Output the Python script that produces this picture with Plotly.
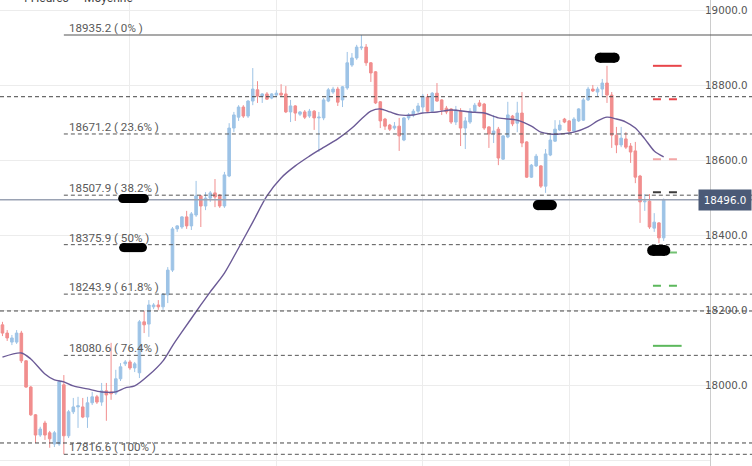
import plotly.graph_objects as go

# ---------------- data ----------------
candle_idx = list(range(141))
opens = [18162, 18140, 18116, 18116, 18140, 18066, 17996, 17922, 17868, 17900,
         17874, 17844, 17844, 18002, 17866, 17930, 17943, 17943, 17916, 17954,
         17970, 17956, 17986, 17983, 17980, 18018, 18058, 18063, 18047, 18034,
         18170, 18164, 18210, 18215, 18210, 18242, 18308, 18418, 18423, 18450,
         18426, 18455, 18506, 18479, 18500, 18514, 18508, 18479, 18559, 18687,
         18716, 18743, 18719, 18759, 18789, 18772, 18778, 18767, 18775, 18780,
         18778, 18730, 18746, 18724, 18730, 18719, 18732, 18714, 18714, 18759,
         18783, 18791, 18762, 18794, 18855, 18874, 18901, 18903, 18861, 18837,
         18757, 18711, 18695, 18687, 18692, 18655, 18714, 18722, 18732, 18743,
         18770, 18732, 18780, 18762, 18740, 18738, 18703, 18732, 18687, 18703,
         18732, 18754, 18751, 18690, 18671, 18684, 18604, 18663, 18719, 18700,
         18727, 18650, 18556, 18586, 18586, 18532, 18615, 18652, 18682, 18711,
         18706, 18679, 18706, 18708, 18762, 18791, 18783, 18791, 18807, 18775,
         18668, 18642, 18658, 18639, 18626, 18559, 18490, 18492, 18420, 18434,
         18394]
highs = [18170, 18148, 18135, 18148, 18146, 18068, 17999, 17924, 17890, 17906,
         17879, 17879, 18015, 18028, 17935, 17967, 17970, 17967, 17970, 17983,
         17975, 18007, 18007, 18114, 18042, 18060, 18068, 18068, 18063, 18175,
         18199, 18228, 18220, 18228, 18247, 18316, 18423, 18428, 18452, 18466,
         18463, 18546, 18508, 18516, 18519, 18551, 18511, 18570, 18700, 18730,
         18748, 18748, 18762, 18847, 18812, 18780, 18783, 18780, 18788, 18804,
         18799, 18762, 18748, 18732, 18735, 18738, 18735, 18730, 18767, 18794,
         18797, 18797, 18799, 18890, 18887, 18909, 18935.2, 18911, 18863, 18839,
         18759, 18714, 18698, 18703, 18714, 18716, 18727, 18738, 18754, 18778,
         18778, 18783, 18807, 18764, 18746, 18740, 18746, 18740, 18716, 18740,
         18754, 18762, 18754, 18692, 18722, 18690, 18668, 18757, 18722, 18757,
         18783, 18652, 18591, 18618, 18588, 18631, 18668, 18708, 18708, 18714,
         18708, 18716, 18740, 18767, 18797, 18802, 18797, 18818, 18853, 18783,
         18690, 18690, 18676, 18647, 18650, 18562, 18511, 18511, 18460, 18436,
         18499]
lows = [18132, 18119, 18108, 18111, 18060, 17994, 17919, 17847, 17863, 17855,
        17834, 17836, 17839, 17817, 17860, 17924, 17887, 17913, 17887, 17948,
        17951, 17946, 17906, 17962, 17975, 18012, 18052, 18042, 18036, 18020,
        18140, 18130, 18204, 18202, 18202, 18220, 18303, 18410, 18418, 18418,
        18415, 18450, 18423, 18468, 18490, 18476, 18474, 18474, 18556, 18676,
        18706, 18714, 18714, 18748, 18754, 18754, 18762, 18764, 18770, 18772,
        18727, 18703, 18706, 18719, 18711, 18714, 18682, 18623, 18708, 18756,
        18778, 18746, 18743, 18789, 18850, 18869, 18895, 18853, 18810, 18751,
        18687, 18682, 18679, 18682, 18626, 18652, 18708, 18716, 18727, 18727,
        18727, 18730, 18757, 18722, 18724, 18698, 18695, 18639, 18631, 18698,
        18730, 18743, 18682, 18634, 18647, 18588, 18602, 18660, 18692, 18676,
        18636, 18554, 18554, 18583, 18527, 18514, 18612, 18650, 18679, 18700,
        18676, 18676, 18703, 18706, 18759, 18783, 18770, 18770, 18754, 18634,
        18620, 18636, 18631, 18594, 18540, 18434, 18466, 18418, 18410, 18380,
        18386]
closes = [18140, 18127, 18127, 18140, 18066, 17996, 17922, 17868, 17884, 17868,
          17858, 17874, 18010, 17866, 17930, 17943, 17946, 17916, 17954, 17970,
          17956, 17986, 17975, 17978, 18018, 18050, 18063, 18047, 18058, 18170,
          18162, 18215, 18215, 18210, 18244, 18308, 18418, 18426, 18450, 18426,
          18458, 18506, 18479, 18500, 18514, 18503, 18479, 18562, 18687, 18722,
          18743, 18719, 18759, 18791, 18772, 18778, 18764, 18778, 18780, 18775,
          18730, 18746, 18727, 18730, 18716, 18732, 18714, 18716, 18762, 18789,
          18791, 18756, 18797, 18861, 18874, 18903, 18903, 18861, 18834, 18754,
          18706, 18692, 18684, 18692, 18666, 18714, 18722, 18732, 18746, 18772,
          18732, 18780, 18759, 18735, 18730, 18703, 18735, 18687, 18706, 18732,
          18748, 18746, 18687, 18671, 18679, 18607, 18666, 18722, 18698, 18727,
          18647, 18556, 18588, 18612, 18532, 18618, 18655, 18684, 18695, 18703,
          18679, 18711, 18738, 18762, 18791, 18786, 18791, 18807, 18775, 18668,
          18642, 18660, 18636, 18623, 18556, 18490, 18492, 18423, 18436, 18394,
          18496]

ma_idx = [0, 4, 6, 9, 11, 13, 15, 18, 21, 24, 26, 28, 31, 34, 36, 38, 42, 44,
          47, 50, 53, 56, 59, 62, 65, 67, 71, 74, 76, 78, 80, 82, 84, 87, 89,
          92, 95, 99, 102, 105, 109, 112, 114, 116, 118, 121, 124, 126, 128,
          130, 132, 134, 136, 138, 140]
ma_vals = [18076, 18087, 18071, 18031, 18015, 18010, 17999, 17991, 17983, 17983,
           17994, 17999, 18028, 18066, 18106, 18143, 18215, 18250, 18300, 18367,
           18436, 18506, 18554, 18586, 18612, 18628, 18658, 18687, 18711, 18732,
           18738, 18730, 18722, 18722, 18727, 18730, 18735, 18730, 18727, 18714,
           18708, 18692, 18676, 18671, 18671, 18676, 18690, 18706, 18716, 18711,
           18703, 18687, 18658, 18626, 18610]

fib_levels = [18935.2, 18671.2, 18507.9, 18375.9, 18243.9, 18080.6, 17816.6]
fib_labels = ["18935.2 ( 0% )", "18671.2 ( 23.6% )", "18507.9 ( 38.2% )",
              "18375.9 ( 50% )", "18243.9 ( 61.8% )", "18080.6 ( 76.4% )",
              "17816.6 ( 100% )"]
fib_start_idx = 13            # candle of the swing low

sr_levels = [18770.6, 18199.0, 17846.8]
current_price = 18496.0

pivot_names = ["R3", "R2", "R1", "P", "S1", "S2", "S3"]
pivot_levels = [18853, 18764, 18604, 18516, 18355, 18266, 18106]
pivot_colors = ["#e8454a", "#e8454a", "#f3a7a7", "#3c3c3c", "#72c172", "#5cb85c", "#5cb85c"]
pivot_solid = [True, False, False, False, False, False, True]
pivot_x0 = 137.73
pivot_x1_solid = 143.8
pivot_x1_dash = 142.9

# redaction blobs: (x0 idx, x1 idx, low price, high price)
blobs = [(24.5, 31.0, 18487, 18511), (24.7, 30.6, 18356, 18380),
         (112.3, 117.4, 18468, 18495), (125.4, 130.7, 18861, 18888),
         (136.5, 141.4, 18346, 18375)]

y_ticks = [17800, 18000, 18200, 18400, 18600, 18800, 19000]
week_starts = [27, 58, 89, 120]
top_labels = ["4 Heures", "Moyenne"]
top_label_px = [19, 82]

# ---------------- figure ----------------
W, H = 752, 466
MR = 42
PW = W - MR
XMIN, XMAX = -0.52, 149.81
YMIN, YMAX = 17785.4, 19028.6
UP, DN = "#9dc3e6", "#f18e8e"
GRID = "#ececec"


def xpaper(i):
    return (i - XMIN) / (XMAX - XMIN)


fig = go.Figure()
fig.add_trace(go.Candlestick(
    x=candle_idx, open=opens, high=highs, low=lows, close=closes,
    increasing=dict(line=dict(color=UP, width=1), fillcolor=UP),
    decreasing=dict(line=dict(color=DN, width=1), fillcolor=DN),
    whiskerwidth=0, hoverinfo="skip", showlegend=False))
fig.add_trace(go.Scatter(
    x=ma_idx, y=ma_vals, mode="lines",
    line=dict(color="#6b5a96", width=1.4, shape="spline", smoothing=0.8),
    hoverinfo="skip", showlegend=False))

shapes = []
right_edge = W / PW
for lv in sr_levels:
    shapes.append(dict(type="line", xref="paper", yref="y", x0=0, x1=right_edge,
                       y0=lv, y1=lv, line=dict(color="#444444", width=1, dash="4px,3px"),
                       layer="above"))
for k, lv in enumerate(fib_levels):
    shapes.append(dict(type="line", xref="paper", yref="y", x0=xpaper(fib_start_idx),
                       x1=right_edge, y0=lv, y1=lv,
                       line=dict(color="#555555", width=1.2 if k == 0 else 1,
                                 dash="solid" if k == 0 else "4px,3px"),
                       layer="above"))
shapes.append(dict(type="line", xref="paper", yref="y", x0=0, x1=right_edge,
                   y0=current_price, y1=current_price,
                   line=dict(color="#9aa2b3", width=1.5), layer="above"))
for lv, col, solid in zip(pivot_levels, pivot_colors, pivot_solid):
    shapes.append(dict(type="line", xref="x", yref="y", x0=pivot_x0,
                       x1=pivot_x1_solid if solid else pivot_x1_dash, y0=lv, y1=lv,
                       line=dict(color=col, width=2, dash="solid" if solid else "8px,8px"),
                       layer="above"))
px_per_idx = PW / (XMAX - XMIN)
px_per_val = H / (YMAX - YMIN)
for x0, x1, y0, y1 in blobs:
    r_idx = (y1 - y0) * px_per_val / 2 / px_per_idx
    shapes.append(dict(type="rect", xref="x", yref="y", x0=x0 + r_idx, x1=x1 - r_idx,
                       y0=y0, y1=y1, fillcolor="black", line=dict(width=0), layer="above"))
    shapes.append(dict(type="circle", xref="x", yref="y", x0=x0, x1=x0 + 2 * r_idx,
                       y0=y0, y1=y1, fillcolor="black", line=dict(width=0), layer="above"))
    shapes.append(dict(type="circle", xref="x", yref="y", x0=x1 - 2 * r_idx, x1=x1,
                       y0=y0, y1=y1, fillcolor="black", line=dict(width=0), layer="above"))

annotations = []
for lv, txt in zip(fib_levels, fib_labels):
    annotations.append(dict(xref="paper", yref="y", x=xpaper(fib_start_idx), y=lv,
                            text=txt, showarrow=False, xanchor="left", yanchor="middle",
                            xshift=3, yshift=7,
                            font=dict(family="Roboto", size=11.6, color="#5a5a5a")))
for txt, px in zip(top_labels, top_label_px):
    annotations.append(dict(xref="paper", yref="paper", x=px / PW, y=1, text=txt,
                            showarrow=False, xanchor="left", yanchor="middle", yshift=2.5,
                            font=dict(family="Roboto", size=12, color="#444444")))
annotations.append(dict(xref="paper", yref="y", x=right_edge, y=current_price,
                        text="%.1f" % current_price, showarrow=False,
                        xanchor="right", yanchor="middle", width=48, height=16,
                        borderpad=2, bgcolor="#4b5a77",
                        font=dict(family="DejaVu Sans", size=10.3, color="white")))

fig.update_layout(
    width=W, height=H, margin=dict(l=0, r=MR, t=0, b=0, pad=0, autoexpand=False),
    paper_bgcolor="white", plot_bgcolor="white", showlegend=False,
    boxgap=0.22,
    shapes=shapes, annotations=annotations,
    xaxis=dict(range=[XMIN, XMAX], rangeslider=dict(visible=False), automargin=False,
               tickvals=week_starts, showticklabels=False, ticks="",
               showgrid=True, gridcolor=GRID, gridwidth=1, zeroline=False,
               showline=False, fixedrange=True),
    yaxis=dict(range=[YMIN, YMAX], side="right", tickvals=y_ticks, tickformat=".1f",
               automargin=False,
               showgrid=True, gridcolor=GRID, gridwidth=1, zeroline=False,
               showline=True, linecolor="#cccccc", linewidth=1, ticks="",
               ticklabelstandoff=-8,
               tickfont=dict(family="DejaVu Sans", size=10.3, color="#555555"),
               fixedrange=True),
)

fig.write_html("out.html", config={"displayModeBar": False},
               post_script="document.body.style.margin='0';document.body.style.overflow='hidden';")
